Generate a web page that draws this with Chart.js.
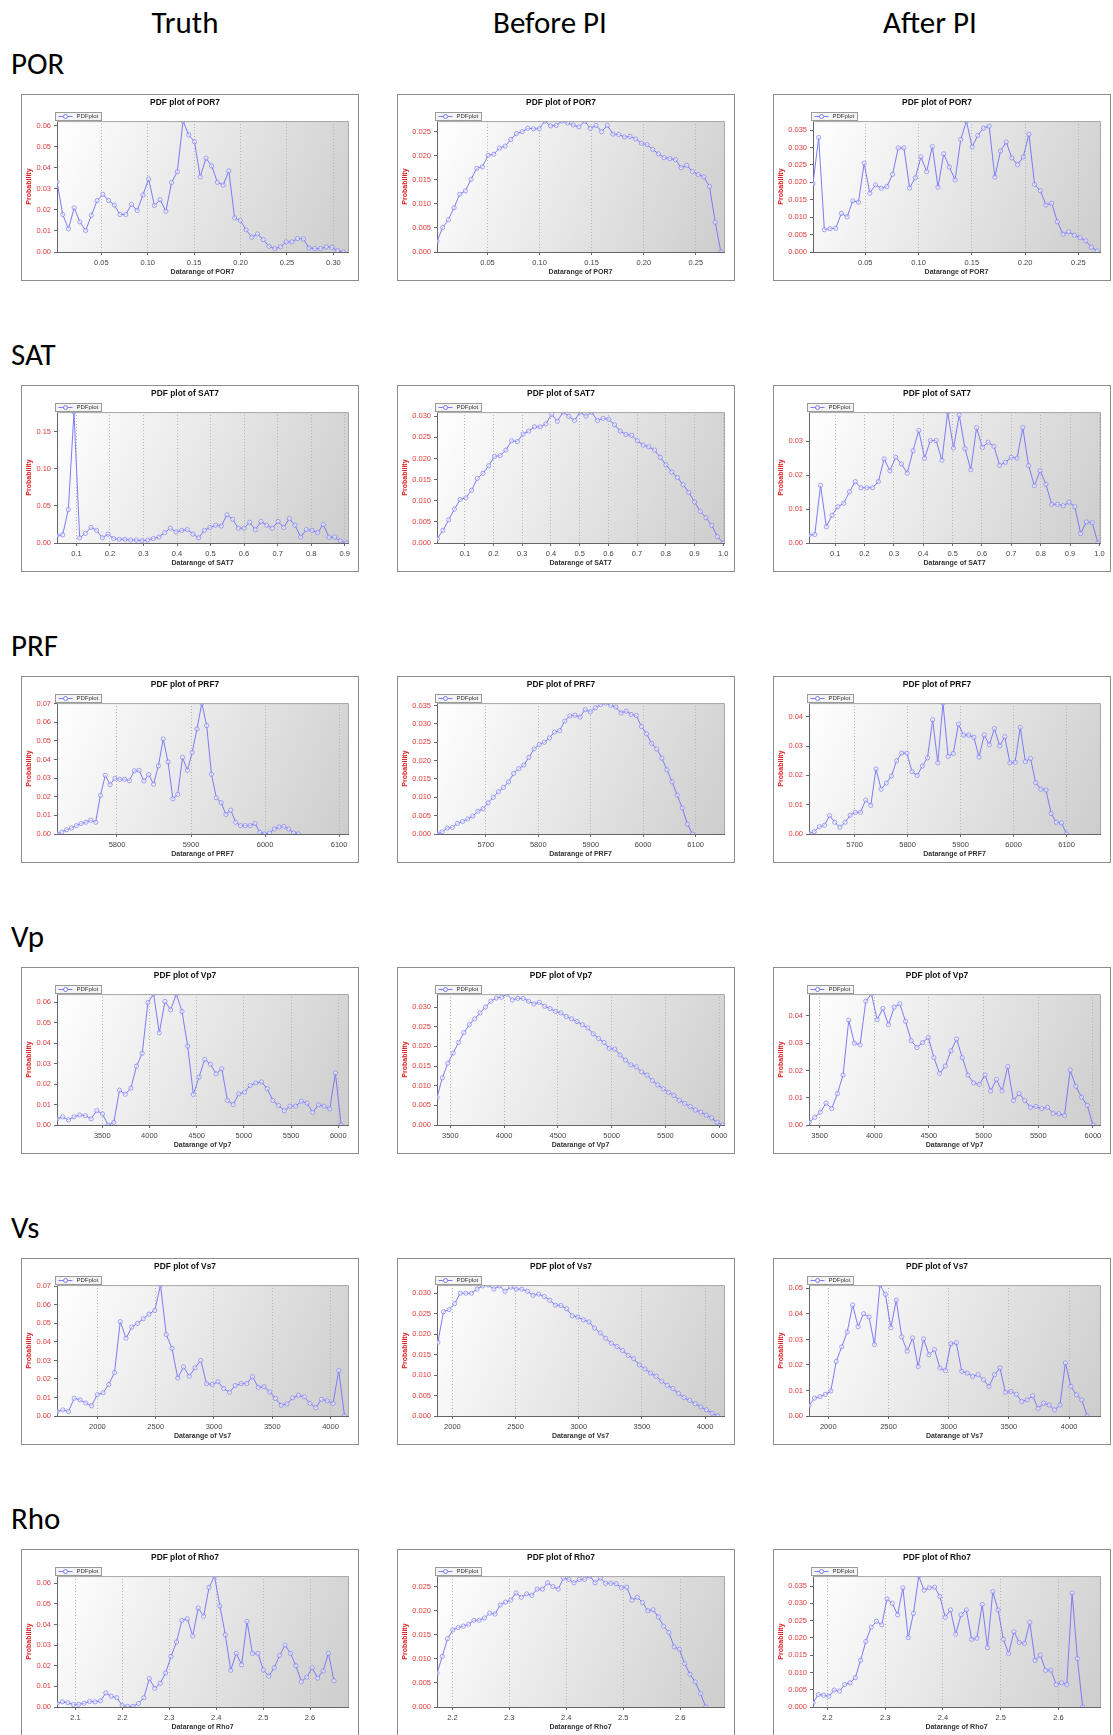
<!DOCTYPE html>
<html>
<head>
<meta charset="utf-8">
<script src="https://cdn.jsdelivr.net/npm/chart.js@4.4.0/dist/chart.umd.min.js"></script>
<style>
body { margin: 0; background: #fff; }
#page { position: relative; width: 1113px; height: 1735px; overflow: hidden; font-family: Carlito, Calibri, Lato, sans-serif; color: #000; }
.head { position: absolute; width: 240px; text-align: center; font-size: 31px; line-height: 31px; }
.rowlab { position: absolute; left: 11px; font-size: 31px; line-height: 31px; }
.box { position: absolute; width: 338px; height: 187px; border: 1px solid #8c8c8c; box-sizing: border-box; background: #fff; }
.box canvas { display: block; }
</style>
</head>
<body>
<div id="page"></div>
<script>
// categories
const props = ['POR', 'SAT', 'PRF', 'Vp', 'Vs', 'Rho'];
const varNames = ['POR7', 'SAT7', 'PRF7', 'Vp7', 'Vs7', 'Rho7'];
const stages = ['Truth', 'Before PI', 'After PI'];

// probability values, one point per bin
const porTruth = [0.0333, 0.0178, 0.0110, 0.0210, 0.0143, 0.0102, 0.0174, 0.0244, 0.0274, 0.0245, 0.0223, 0.0178, 0.0178, 0.0226, 0.0197, 0.0271, 0.0347, 0.0221, 0.0248, 0.0194, 0.0330, 0.0381, 0.0622, 0.0556, 0.0524, 0.0357, 0.0446, 0.0409, 0.0331, 0.0318, 0.0385, 0.0162, 0.0150, 0.0105, 0.0070, 0.0086, 0.0059, 0.0027, 0.0016, 0.0024, 0.0048, 0.0048, 0.0064, 0.0062, 0.0019, 0.0016, 0.0016, 0.0024, 0.0022, 0.0006, 0.0];
const porBefore = [0.0022, 0.0051, 0.0067, 0.0092, 0.0120, 0.0127, 0.0151, 0.0174, 0.0177, 0.0201, 0.0203, 0.0216, 0.0220, 0.0234, 0.0246, 0.0250, 0.0257, 0.0256, 0.0256, 0.0272, 0.0262, 0.0263, 0.0272, 0.0268, 0.0264, 0.0260, 0.0272, 0.0257, 0.0263, 0.0250, 0.0263, 0.0245, 0.0244, 0.0239, 0.0240, 0.0235, 0.0226, 0.0223, 0.0213, 0.0204, 0.0196, 0.0194, 0.0192, 0.0175, 0.0180, 0.0167, 0.0161, 0.0156, 0.0136, 0.0062, 0.0];
const porAfter = [0.0196, 0.0329, 0.0064, 0.0067, 0.0068, 0.0111, 0.0101, 0.0147, 0.0143, 0.0255, 0.0169, 0.0193, 0.0183, 0.0188, 0.0223, 0.0299, 0.0299, 0.0184, 0.0213, 0.0273, 0.0231, 0.0303, 0.0186, 0.0282, 0.0244, 0.0207, 0.0323, 0.0376, 0.0302, 0.0335, 0.0356, 0.0361, 0.0215, 0.0290, 0.0316, 0.0270, 0.0251, 0.0273, 0.0338, 0.0194, 0.0176, 0.0135, 0.0140, 0.0087, 0.0051, 0.0058, 0.0048, 0.0041, 0.0032, 0.0014, 0.0003];
const satTruth = [0.010, 0.011, 0.045, 0.1767, 0.007, 0.013, 0.021, 0.017, 0.007, 0.012, 0.006, 0.005, 0.005, 0.004, 0.004, 0.003, 0.004, 0.006, 0.008, 0.014, 0.020, 0.015, 0.017, 0.018, 0.012, 0.007, 0.017, 0.021, 0.024, 0.023, 0.038, 0.032, 0.020, 0.020, 0.028, 0.018, 0.029, 0.024, 0.020, 0.029, 0.021, 0.033, 0.024, 0.008, 0.018, 0.017, 0.014, 0.025, 0.008, 0.008, 0.003, 0.000];
const satBefore = [0.001, 0.003, 0.0055, 0.008, 0.0103, 0.0107, 0.0125, 0.0153, 0.0165, 0.0183, 0.0205, 0.0207, 0.022, 0.0242, 0.024, 0.0258, 0.0265, 0.0275, 0.0275, 0.0282, 0.0305, 0.0288, 0.031, 0.030, 0.029, 0.031, 0.030, 0.031, 0.029, 0.0295, 0.0293, 0.028, 0.0265, 0.0257, 0.0255, 0.0242, 0.0232, 0.0228, 0.022, 0.0203, 0.0185, 0.0168, 0.0155, 0.0138, 0.012, 0.0097, 0.0075, 0.006, 0.0042, 0.0015, 0.000];
const satAfter = [0.0023, 0.0025, 0.017, 0.0048, 0.0082, 0.0107, 0.0117, 0.0151, 0.0181, 0.0163, 0.0163, 0.0163, 0.0181, 0.0248, 0.0213, 0.0253, 0.0233, 0.0206, 0.0272, 0.0332, 0.0250, 0.0302, 0.0302, 0.0244, 0.0386, 0.0280, 0.0377, 0.0278, 0.0216, 0.0340, 0.0282, 0.0297, 0.0285, 0.0229, 0.0238, 0.0253, 0.0250, 0.0340, 0.0228, 0.0169, 0.0213, 0.0173, 0.0114, 0.0114, 0.0110, 0.0120, 0.0107, 0.0028, 0.0062, 0.0060, 0.0];
const prfTruth = [0.000, 0.001, 0.0023, 0.0032, 0.0045, 0.0056, 0.0063, 0.0074, 0.0063, 0.0207, 0.0315, 0.0265, 0.0299, 0.0294, 0.0294, 0.0286, 0.0339, 0.0342, 0.0285, 0.0319, 0.0267, 0.0366, 0.0510, 0.0387, 0.0189, 0.0213, 0.0411, 0.0342, 0.0438, 0.0564, 0.0703, 0.0582, 0.0321, 0.0195, 0.0168, 0.0105, 0.0128, 0.0063, 0.0045, 0.0045, 0.0045, 0.0056, 0.0009, 0.000, 0.0005, 0.0027, 0.0038, 0.0041, 0.0027, 0.0005, 0.0];
const prfBefore = [0, 0.0006, 0.0016, 0.0018, 0.0029, 0.0034, 0.0041, 0.0049, 0.0062, 0.0069, 0.0085, 0.0100, 0.0115, 0.0127, 0.0142, 0.0165, 0.0178, 0.0188, 0.0209, 0.0232, 0.0244, 0.0250, 0.0262, 0.0278, 0.0282, 0.0308, 0.0322, 0.0324, 0.0319, 0.0339, 0.0333, 0.0344, 0.0353, 0.0357, 0.0351, 0.0346, 0.0330, 0.0335, 0.0326, 0.0323, 0.0293, 0.0273, 0.0247, 0.0232, 0.0207, 0.0175, 0.0142, 0.0106, 0.0071, 0.0027, 0.0];
const prfAfter = [0.0002, 0.0008, 0.0025, 0.003, 0.0063, 0.004, 0.0023, 0.004, 0.0064, 0.0074, 0.0074, 0.0116, 0.0098, 0.0222, 0.0153, 0.0174, 0.0198, 0.025, 0.0276, 0.0276, 0.0213, 0.020, 0.0232, 0.026, 0.039, 0.0243, 0.0447, 0.0265, 0.0275, 0.0375, 0.0338, 0.0338, 0.033, 0.0263, 0.0338, 0.0305, 0.036, 0.0301, 0.0332, 0.0243, 0.0245, 0.0364, 0.0247, 0.0258, 0.0175, 0.0153, 0.015, 0.007, 0.004, 0.0038, 0.0];
const vpTruth = [0.003, 0.004, 0.0025, 0.004, 0.0049, 0.0046, 0.003, 0.007, 0.0054, 0.0, 0.0013, 0.017, 0.015, 0.018, 0.0287, 0.035, 0.0598, 0.0639, 0.045, 0.0603, 0.0562, 0.0639, 0.0554, 0.0385, 0.0149, 0.0234, 0.032, 0.0297, 0.025, 0.0274, 0.012, 0.010, 0.0152, 0.016, 0.0193, 0.0205, 0.021, 0.0177, 0.012, 0.0095, 0.007, 0.0092, 0.0092, 0.0116, 0.0107, 0.0062, 0.0098, 0.0092, 0.0079, 0.0254, 0.0];
const vpBefore = [0.007, 0.012, 0.0157, 0.0183, 0.021, 0.0235, 0.0255, 0.027, 0.0285, 0.030, 0.0315, 0.0323, 0.0325, 0.0333, 0.0318, 0.0322, 0.0322, 0.0315, 0.0308, 0.0312, 0.0302, 0.0296, 0.0289, 0.0285, 0.0276, 0.027, 0.0263, 0.0255, 0.0247, 0.0232, 0.022, 0.021, 0.0195, 0.0193, 0.0178, 0.0165, 0.0153, 0.0148, 0.0135, 0.0127, 0.0113, 0.0102, 0.0092, 0.0083, 0.0075, 0.0063, 0.0055, 0.0047, 0.0038, 0.0033, 0.0025, 0.0018, 0.0007, 0.0];
const vpAfter = [0.001, 0.0028, 0.0047, 0.008, 0.006, 0.0115, 0.0183, 0.0384, 0.030, 0.0294, 0.0454, 0.048, 0.0386, 0.0427, 0.0368, 0.0432, 0.0444, 0.038, 0.0309, 0.0284, 0.0302, 0.0321, 0.0247, 0.0189, 0.0216, 0.0272, 0.0315, 0.0247, 0.0183, 0.0154, 0.0149, 0.0183, 0.0125, 0.0167, 0.0125, 0.0214, 0.009, 0.0115, 0.009, 0.0065, 0.0068, 0.006, 0.0065, 0.0043, 0.0041, 0.0035, 0.0201, 0.0142, 0.0102, 0.0072, 0.0];
const vsTruth = [0.0024, 0.0033, 0.0025, 0.0096, 0.0087, 0.007, 0.0055, 0.0115, 0.0125, 0.017, 0.0235, 0.051, 0.042, 0.048, 0.050, 0.0525, 0.055, 0.057, 0.0707, 0.044, 0.0365, 0.0205, 0.0265, 0.0215, 0.026, 0.030, 0.0175, 0.017, 0.0185, 0.0148, 0.0128, 0.0165, 0.0175, 0.0175, 0.0212, 0.0155, 0.0158, 0.013, 0.0095, 0.0058, 0.0065, 0.0098, 0.0112, 0.0103, 0.0068, 0.0045, 0.009, 0.0082, 0.0068, 0.0245, 0.0];
const vsBefore = [0.018, 0.0255, 0.026, 0.0275, 0.030, 0.030, 0.030, 0.031, 0.0318, 0.032, 0.031, 0.0318, 0.0305, 0.0315, 0.031, 0.031, 0.0305, 0.0295, 0.0298, 0.0292, 0.0283, 0.0271, 0.027, 0.0262, 0.0245, 0.0242, 0.0235, 0.023, 0.0215, 0.0203, 0.019, 0.0178, 0.017, 0.016, 0.0148, 0.014, 0.0125, 0.0115, 0.0105, 0.0097, 0.0085, 0.0075, 0.0067, 0.0055, 0.0045, 0.0038, 0.003, 0.0022, 0.0015, 0.0007, 0.0];
const vsAfter = [0.0041, 0.007, 0.0076, 0.0085, 0.0098, 0.0214, 0.0271, 0.0329, 0.0435, 0.035, 0.0401, 0.0388, 0.028, 0.0513, 0.0477, 0.0346, 0.0454, 0.031, 0.0254, 0.0306, 0.0194, 0.0302, 0.024, 0.026, 0.0188, 0.0178, 0.0283, 0.0287, 0.0175, 0.0168, 0.0155, 0.0162, 0.0142, 0.0116, 0.0162, 0.0188, 0.0093, 0.0096, 0.0085, 0.0057, 0.0063, 0.0079, 0.003, 0.005, 0.0043, 0.0024, 0.0043, 0.0208, 0.0116, 0.0083, 0.0063, 0.0];
const rhoTruth = [0.0018, 0.0025, 0.0021, 0.0012, 0.0013, 0.0018, 0.0027, 0.0025, 0.003, 0.0068, 0.0052, 0.0045, 0.0008, 0.0003, 0.0003, 0.0017, 0.0045, 0.0138, 0.009, 0.0115, 0.0165, 0.0245, 0.0315, 0.042, 0.0428, 0.0345, 0.048, 0.044, 0.058, 0.0635, 0.049, 0.035, 0.0178, 0.026, 0.0205, 0.0415, 0.026, 0.026, 0.018, 0.015, 0.019, 0.025, 0.030, 0.026, 0.020, 0.0123, 0.0145, 0.019, 0.014, 0.0175, 0.026, 0.0128];
const rhoBefore = [0.007, 0.0105, 0.0142, 0.016, 0.0165, 0.0168, 0.0172, 0.018, 0.018, 0.0185, 0.0195, 0.0193, 0.0212, 0.0218, 0.0222, 0.0237, 0.0228, 0.0235, 0.0232, 0.0245, 0.0245, 0.0258, 0.025, 0.0245, 0.0268, 0.0265, 0.0258, 0.0265, 0.0265, 0.0272, 0.0258, 0.0268, 0.0257, 0.0257, 0.0256, 0.0248, 0.0249, 0.0222, 0.0228, 0.0217, 0.02, 0.0202, 0.0187, 0.0168, 0.0155, 0.0125, 0.012, 0.009, 0.0068, 0.0052, 0.0028, 0.0];
const rhoAfter = [0.0012, 0.0036, 0.0034, 0.0031, 0.0049, 0.0046, 0.0065, 0.007, 0.0085, 0.0135, 0.019, 0.0231, 0.0248, 0.0238, 0.0313, 0.030, 0.0267, 0.0345, 0.0201, 0.0271, 0.0379, 0.0338, 0.0345, 0.0347, 0.032, 0.026, 0.0281, 0.0211, 0.0267, 0.0281, 0.0196, 0.0199, 0.0297, 0.0172, 0.0334, 0.0281, 0.0196, 0.0155, 0.0218, 0.0187, 0.0184, 0.0245, 0.0135, 0.015, 0.0106, 0.0107, 0.0065, 0.007, 0.0065, 0.033, 0.014, 0.0];

// first and last bin centre of each series
const binRange = [
  [[0.0023, 0.3108], [0.0016, 0.274], [0.001, 0.2676]],
  [[0.042, 0.904], [0.004, 1.0], [0.011, 0.995]],
  [[5719, 6045], [5607, 6094], [5614, 6100]],
  [[3021, 6030], [3376, 6030], [3403, 6000]],
  [[1653, 4120], [1885, 4100], [1840, 4150]],
  [[2.0605, 2.651], [2.173, 2.645], [2.175, 2.642]]
];
// x axis extent of each plot
const axisRange = [
  [[0.0023, 0.3157], [0.0016, 0.277], [0.001, 0.2703]],
  [[0.042, 0.91], [0.003, 1.003], [0.011, 1.002]],
  [[5719, 6112], [5607, 6154], [5614, 6163]],
  [[3021, 6103], [3376, 6045], [3403, 6065]],
  [[1653, 4150], [1878, 4150], [1840, 4256]],
  [[2.0605, 2.681], [2.173, 2.677], [2.175, 2.672]]
];
// tick labels
const xTickStep = [0.05, 0.1, 100, 500, 500, 0.1];
const xTickDecimals = [2, 1, 0, 0, 0, 1];
const yTickStep = [
  [0.01, 0.005, 0.005],
  [0.05, 0.005, 0.01],
  [0.01, 0.005, 0.01],
  [0.01, 0.005, 0.01],
  [0.01, 0.005, 0.01],
  [0.01, 0.005, 0.005]
];

const series = [
  [porTruth, porBefore, porAfter],
  [satTruth, satBefore, satAfter],
  [prfTruth, prfBefore, prfAfter],
  [vpTruth, vpBefore, vpAfter],
  [vsTruth, vsBefore, vsAfter],
  [rhoTruth, rhoBefore, rhoAfter]
];

const colLeft = [21, 397, 773];
const rowTop = [94, 385, 676, 967, 1258, 1549];
const headCenter = [185, 550, 930];
const lineColor = '#7c7cf6';

Chart.defaults.font.family = '"Liberation Sans", Arial, sans-serif';
Chart.defaults.animation = false;

// ticks at every multiple of the step inside the axis range
function stepTicks(step) {
  return (sc) => {
    const out = [];
    for (let k = Math.ceil(sc.min / step - 1e-9); k * step <= sc.max + 1e-9; k++) {
      out.push({value: +(k * step).toFixed(6)});
    }
    sc.ticks = out;
  };
}

// grey gradient behind the plot, frame and the little legend box
const plotDecor = {
  id: 'plotDecor',
  beforeDraw(chart) {
    const {ctx, chartArea: a} = chart;
    const g = ctx.createLinearGradient(a.left, a.top, a.right, a.bottom);
    g.addColorStop(0, '#ffffff');
    g.addColorStop(1, '#cdcdcd');
    ctx.save();
    ctx.fillStyle = g;
    ctx.fillRect(a.left, a.top, a.right - a.left, a.bottom - a.top);
    ctx.restore();
  },
  afterDraw(chart) {
    const {ctx, chartArea: a} = chart;
    ctx.save();
    ctx.strokeStyle = '#a8a8a8';
    ctx.lineWidth = 1;
    ctx.beginPath();
    ctx.moveTo(a.left, a.top + 0.5);
    ctx.lineTo(a.right + 0.5, a.top + 0.5);
    ctx.lineTo(a.right + 0.5, a.bottom);
    ctx.stroke();

    // legend
    const lx = Math.round(a.left) - 1.5, ly = 17.5, lw = 46, lh = 8;
    ctx.fillStyle = '#f4f4f4';
    ctx.fillRect(lx, ly, lw, lh);
    ctx.strokeStyle = '#9a9a9a';
    ctx.strokeRect(lx, ly, lw, lh);
    ctx.strokeStyle = lineColor;
    ctx.beginPath();
    ctx.moveTo(lx + 3, ly + 4);
    ctx.lineTo(lx + 17, ly + 4);
    ctx.stroke();
    ctx.fillStyle = '#fff';
    ctx.beginPath();
    ctx.arc(lx + 10, ly + 4, 2, 0, Math.PI * 2);
    ctx.fill();
    ctx.stroke();
    ctx.fillStyle = '#333';
    ctx.font = '6px "Liberation Sans", Arial, sans-serif';
    ctx.textBaseline = 'middle';
    ctx.fillText(chart.data.datasets[0].label, lx + 21, ly + 4.3);
    ctx.restore();
  }
};

const page = document.getElementById('page');

stages.forEach((s, c) => {
  const h = document.createElement('div');
  h.className = 'head';
  h.textContent = s;
  h.style.left = (headCenter[c] - 120) + 'px';
  h.style.top = '7px';
  page.appendChild(h);
});

props.forEach((p, r) => {
  const lab = document.createElement('div');
  lab.className = 'rowlab';
  lab.textContent = p;
  lab.style.top = (rowTop[r] - 46) + 'px';
  page.appendChild(lab);

  for (let c = 0; c < 3; c++) {
    const values = series[r][c];
    const [b0, b1] = binRange[r][c];
    const step = (b1 - b0) / (values.length - 1);
    const pts = values.map((v, i) => ({x: b0 + i * step, y: v}));
    const ys = yTickStep[r][c];
    const yDec = ys < 0.01 ? 3 : 2;
    const xDec = xTickDecimals[r];

    const box = document.createElement('div');
    box.className = 'box';
    box.style.left = colLeft[c] + 'px';
    box.style.top = rowTop[r] + 'px';
    const cv = document.createElement('canvas');
    cv.width = 336;
    cv.height = 185;
    box.appendChild(cv);
    page.appendChild(box);

    new Chart(cv, {
      type: 'line',
      data: {
        datasets: [{
          label: 'PDFplot',
          data: pts,
          borderColor: lineColor,
          borderWidth: 1,
          pointRadius: 2.1,
          pointBorderWidth: 0.7,
          pointBorderColor: lineColor,
          pointBackgroundColor: 'rgba(255,255,255,0.5)',
          tension: 0
        }]
      },
      options: {
        responsive: false,
        layout: {padding: {left: 0, right: 10, top: 0, bottom: 0}},
        plugins: {
          legend: {display: false},
          tooltip: {enabled: false},
          title: {
            display: true,
            text: 'PDF plot of ' + varNames[r],
            color: '#111',
            font: {size: 8.4, weight: 'bold'},
            padding: {top: 3, bottom: 13}
          }
        },
        scales: {
          x: {
            type: 'linear',
            min: axisRange[r][c][0],
            max: axisRange[r][c][1],
            afterFit: (sc) => { sc.height = 28; },
            afterBuildTicks: stepTicks(xTickStep[r]),
            ticks: {
              autoSkip: false,
              maxRotation: 0,
              padding: 3,
              color: '#444',
              font: {size: 7.5},
              callback: (v) => v.toFixed(xDec)
            },
            grid: {color: '#b4b4b4', lineWidth: 1, drawTicks: true, tickLength: 3, tickColor: '#666'},
            border: {display: true, color: '#666', width: 1, dash: [1, 2]},
            title: {
              display: true,
              text: 'Datarange of ' + varNames[r],
              color: '#333',
              font: {size: 7, weight: 'bold'},
              padding: {top: 0, bottom: 4}
            }
          },
          y: {
            min: 0,
            max: Math.max(...values),
            afterFit: (sc) => { sc.width = yDec === 3 ? 39 : 35; },
            afterBuildTicks: stepTicks(ys),
            ticks: {
              autoSkip: false,
              padding: 3,
              color: '#e23a3a',
              font: {size: 7.5},
              callback: (v) => v.toFixed(yDec)
            },
            grid: {drawOnChartArea: false, drawTicks: true, tickLength: 3, tickColor: '#666'},
            border: {display: true, color: '#666', width: 1},
            title: {
              display: true,
              text: 'Probability',
              color: '#e02020',
              font: {size: 7, weight: 'bold'},
              padding: {top: 3, bottom: 0}
            }
          }
        }
      },
      plugins: [plotDecor]
    });
  }
});
</script>
</body>
</html>
